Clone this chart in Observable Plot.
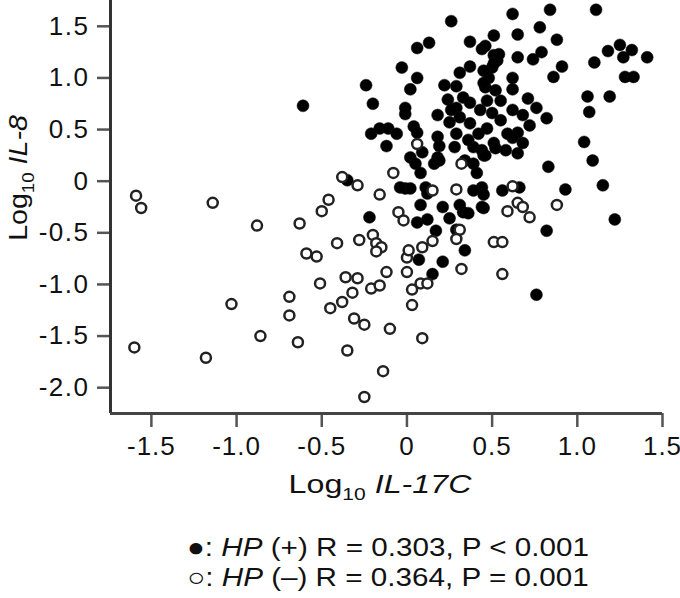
<!DOCTYPE html>
<html>
<head>
<meta charset="utf-8">
<script src="https://cdn.jsdelivr.net/npm/d3@7"></script>
<script src="https://cdn.jsdelivr.net/npm/@observablehq/plot@0.6"></script>
<style>
  body { margin: 0; background: white; font-family: "Liberation Sans", Arial, sans-serif; }
  #legend { width: 680px; font-size: 26px; line-height: 30px; color: #111; margin-top: 17px; }
  #legend div { text-align: center; padding-left: 96px; box-sizing: border-box; width: 680px;
                transform: scaleX(1.14); transform-origin: 388px 50%; white-space: nowrap; }
</style>
</head>
<body>
<div id="chart"></div>
<div id="legend">
  <div>●: <i>HP</i> (+) R = 0.303, P &lt; 0.001</div>
  <div>○: <i>HP</i> (–) R = 0.364, P = 0.001</div>
</div>
<script>
// HP (+) : filled circles  [log10 IL-17C, log10 IL-8]
const hpPosX = [0.26,0.13,0.06,0.37,0.51,0.46,0.44,0.51,-0.03,0.06,0.02,-0.24,-0.20,-0.61,-0.01,-0.01,0.04,0.06,-0.21,-0.16,-0.11,-0.06,-0.12,0.18,0.24,0.18,0.19,0.18,0.16,0.31,0.37,0.29,0.33,0.29,0.31,0.37,0.25,0.29,0.28,0.36,0.39,0.44,0.45,0.42,0.47,0.43,0.47,0.46,0.48,0.50,0.53,0.02,0.05,0.08,0.09,0.39,0.41,0.44,0.39,-0.01,0.02,-0.35,0.11,0.12,0.62,0.84,1.11,0.78,0.65,0.88,0.79,0.74,0.65,0.54,0.91,0.86,0.62,0.62,0.51,0.45,0.45,0.52,0.71,0.76,0.82,0.62,0.68,0.72,0.65,0.62,0.68,0.65,0.59,0.51,0.52,0.46,0.50,0.83,0.56,0.66,0.93,1.15,1.10,1.18,1.25,1.32,1.41,1.27,1.28,1.33,1.06,1.19,1.07,1.04,1.09,1.22,0.82,0.76,0.45,0.45,-0.22,-0.04,0.08,0.21,0.06,0.12,0.17,0.07,0.21,0.15,0.25,0.29,0.34,0.31,0.33,0.36,0.44,0.22,0.26,0.34,0.55,0.58,0.37,0.19,0.55];
const hpPosY = [1.55,1.34,1.29,1.35,1.41,1.31,1.28,1.22,1.10,1.00,0.89,0.93,0.75,0.73,0.71,0.65,0.53,0.47,0.46,0.51,0.51,0.46,0.34,0.64,0.79,0.43,0.34,0.23,0.17,1.05,1.11,0.92,0.81,0.71,0.62,0.56,0.57,0.46,0.33,0.40,0.33,0.30,0.25,0.46,0.51,0.69,0.78,0.91,1.00,1.10,1.17,0.23,0.17,0.08,0.28,0.17,0.08,-0.06,-0.09,-0.07,-0.07,0.01,-0.06,-0.12,1.62,1.66,1.66,1.49,1.42,1.37,1.25,1.18,1.20,1.23,1.11,1.01,1.00,0.89,1.14,1.07,0.95,0.88,0.80,0.71,0.61,0.69,0.64,0.54,0.47,0.42,0.37,0.27,0.46,0.37,0.32,0.25,0.66,0.14,-0.09,-0.06,-0.08,-0.04,1.15,1.26,1.32,1.27,1.20,1.20,1.01,1.01,0.82,0.82,0.67,0.38,0.20,-0.37,-0.48,-1.10,-0.13,-0.26,-0.35,-0.06,-0.23,-0.25,-0.40,-0.37,-0.48,-0.76,-0.78,-0.90,-0.36,-0.47,-0.67,-0.23,-0.30,-0.31,-0.25,0.93,0.69,0.20,0.59,0.30,0.76,0.20,0.78];
// HP (-) : open circles
const hpNegX = [-1.59,-1.56,-1.14,-0.88,-0.63,-1.03,-0.69,-0.69,-0.86,-0.64,-1.60,-1.18,-0.46,-0.50,-0.59,-0.53,-0.41,-0.28,-0.51,-0.36,-0.29,-0.32,-0.38,-0.45,-0.21,-0.16,-0.12,-0.31,-0.25,-0.10,-0.35,-0.14,-0.25,0.09,0.03,0.03,0.00,0.08,0.12,0.00,0.01,0.09,0.15,-0.20,-0.18,-0.15,-0.18,-0.05,-0.02,-0.16,-0.29,0.15,0.29,0.31,0.29,0.32,0.51,0.62,0.59,0.65,0.68,0.72,0.88,0.56,0.56,0.06,0.32,-0.08,-0.38];
const hpNegY = [-0.14,-0.26,-0.21,-0.43,-0.41,-1.19,-1.12,-1.30,-1.50,-1.56,-1.61,-1.71,-0.18,-0.29,-0.70,-0.73,-0.60,-0.57,-0.99,-0.93,-0.94,-1.08,-1.17,-1.23,-1.04,-1.01,-0.88,-1.33,-1.39,-1.43,-1.64,-1.84,-2.09,-1.52,-1.20,-1.05,-0.88,-0.99,-0.99,-0.74,-0.67,-0.64,-0.58,-0.52,-0.60,-0.64,-0.68,-0.30,-0.38,-0.13,-0.04,-0.09,-0.08,-0.47,-0.56,-0.85,-0.59,-0.05,-0.29,-0.21,-0.25,-0.35,-0.23,-0.59,-0.90,0.36,0.17,0.08,0.04];
const xTicks = [-1.5, -1.0, -0.5, 0, 0.5, 1.0, 1.5];
const yTicks = [-2.0, -1.5, -1.0, -0.5, 0, 0.5, 1.0, 1.5];

const pos = hpPosX.map((x, i) => ({x, y: hpPosY[i]}));
const neg = hpNegX.map((x, i) => ({x, y: hpNegY[i]}));
const fmt = d => d === 0 ? "0" : d.toFixed(1);
const xMin = -1.74, yMin = -2.25;

const chart = Plot.plot({
  width: 680, height: 515,
  marginLeft: 110, marginRight: 18, marginTop: 0, marginBottom: 102,
  x: {domain: [xMin, 1.5]},
  y: {domain: [yMin, 1.75]},
  style: {fontFamily: '"Liberation Sans", Arial, sans-serif', fontSize: "26px", color: "#111", background: "white", overflow: "visible"},
  marks: [
    Plot.axisX(xTicks, {tickSize: 14, tickPadding: 9, tickFormat: fmt, stroke: "#555", strokeWidth: 2.5, fill: "#111", fontSize: 26, label: null}),
    Plot.axisY(yTicks, {tickSize: 13, tickPadding: 8, tickFormat: fmt, stroke: "#555", strokeWidth: 2.5, fill: "#111", fontSize: 26, label: null}),
    Plot.ruleX([xMin], {stroke: "#333", strokeWidth: 3}),
    Plot.ruleY([yMin], {stroke: "#444", strokeWidth: 3}),
    Plot.dot(pos, {x: "x", y: "y", r: 6, fill: "#000", stroke: "#111", strokeWidth: 0.5}),
    Plot.dot(neg, {x: "x", y: "y", r: 5, fill: "white", stroke: "#222", strokeWidth: 2.5})
  ]
});
document.getElementById("chart").appendChild(chart);

const svg = d3.select(chart);
// slightly wider lettering for tick labels, as in the reference
svg.selectAll('g[aria-label="y-axis tick label"]').attr("letter-spacing", "1.5px");
svg.selectAll('g[aria-label="x-axis tick label"]').attr("letter-spacing", "1px");

const xt = svg.append("text")
  .attr("transform", "translate(380,493) scale(1.24,1)")
  .attr("text-anchor", "middle")
  .attr("font-size", 26).attr("fill", "#111");
xt.append("tspan").text("Log");
xt.append("tspan").attr("font-size", 17).attr("dy", 7).text("10");
xt.append("tspan").attr("dy", -7).text(" ");
xt.append("tspan").attr("font-style", "italic").text("IL-17C");

const yt = svg.append("text")
  .attr("transform", "translate(27,178) rotate(-90) scale(1.1,1)")
  .attr("text-anchor", "middle")
  .attr("font-size", 26).attr("fill", "#111");
yt.append("tspan").text("Log");
yt.append("tspan").attr("font-size", 17).attr("dy", 7).text("10");
yt.append("tspan").attr("dy", -7).text(" ");
yt.append("tspan").attr("font-style", "italic").text("IL-8");
</script>
</body>
</html>
